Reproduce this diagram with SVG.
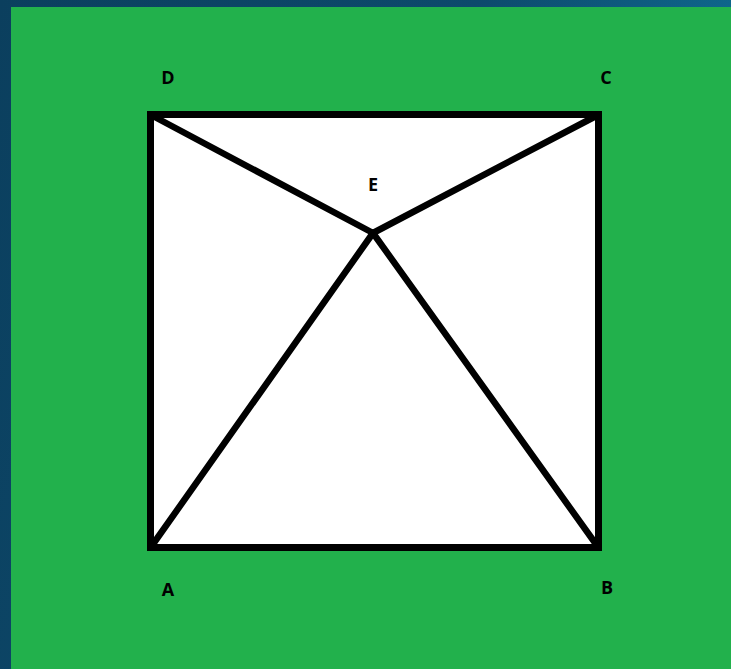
<svg xmlns="http://www.w3.org/2000/svg" width="731" height="669" viewBox="0 0 731 669">
<defs>
<linearGradient id="bg" x1="0" y1="0" x2="1" y2="0.3">
<stop offset="0" stop-color="#0b3f5e"/>
<stop offset="0.6" stop-color="#0d4a6c"/>
<stop offset="1" stop-color="#0f6c92"/>
</linearGradient>
<style>
.lbl{font-family:"Open Sans","Liberation Sans",sans-serif;font-weight:bold;font-size:18px;fill:#000;text-anchor:middle}
.edge{stroke:#000;stroke-width:7;stroke-linecap:square;fill:none}
.diag{stroke:#000;stroke-width:6.5;stroke-linecap:round;fill:none}
</style>
</defs>
<rect width="731" height="669" fill="url(#bg)"/>
<rect x="11" y="7" width="720" height="662" fill="#22b14c"/>
<rect x="151" y="114" width="448" height="434" fill="#fff"/>
<g id="connectors">
<line class="edge" x1="150.5" y1="114.5" x2="598.5" y2="114.5"/>
<line class="edge" x1="598.5" y1="114.5" x2="598.5" y2="547.5"/>
<line class="edge" x1="598.5" y1="547.5" x2="150.5" y2="547.5"/>
<line class="edge" x1="150.5" y1="547.5" x2="150.5" y2="114.5"/>
<line class="diag" x1="151" y1="115" x2="373" y2="233"/>
<line class="diag" x1="598" y1="115" x2="373" y2="233"/>
<line class="diag" x1="151" y1="547" x2="373" y2="233"/>
<line class="diag" x1="598" y1="547" x2="373" y2="233"/>
</g>
<g id="D"><text class="lbl" x="168" y="84">D</text></g>
<g id="C"><text class="lbl" x="606" y="84">C</text></g>
<g id="E"><text class="lbl" x="373" y="191">E</text></g>
<g id="A"><text class="lbl" x="168" y="596">A</text></g>
<g id="B"><text class="lbl" x="607" y="594">B</text></g>
</svg>
